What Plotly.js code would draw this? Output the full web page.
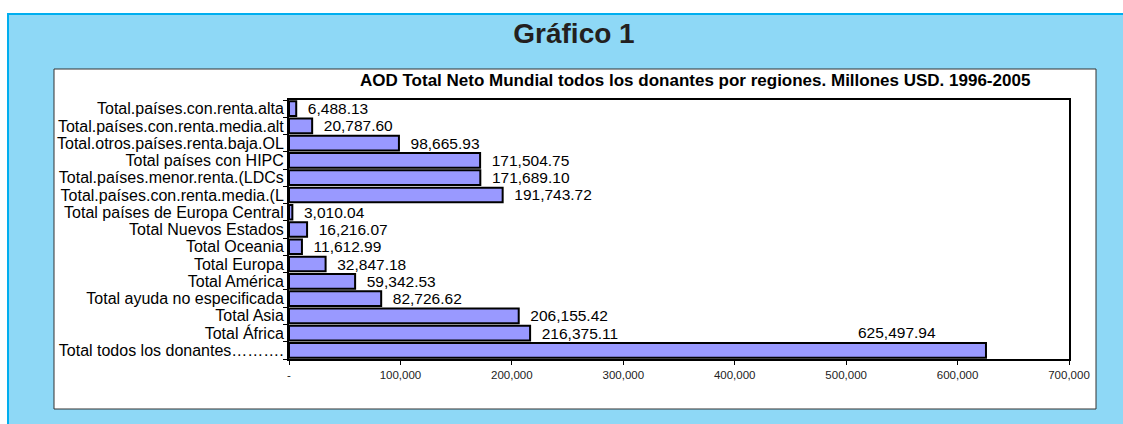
<!DOCTYPE html>
<html>
<head>
<meta charset="utf-8">
<script src="https://cdn.plot.ly/plotly-3.0.1.min.js"></script>
<style>
  html, body { margin: 0; padding: 0; background: #ffffff; }
  #chart { width: 1123px; height: 424px; }
</style>
</head>
<body>
<div id="chart"></div>
<script>
// ---- Data (top to bottom as in the reference) ----
const categories = [
  "Total.países.con.renta.alta",
  "Total.países.con.renta.media.alt",
  "Total.otros.países.renta.baja.OL",
  "Total países con HIPC",
  "Total.países.menor.renta.(LDCs",
  "Total.países.con.renta.media.(L",
  "Total países de Europa Central",
  "Total Nuevos Estados",
  "Total Oceania",
  "Total Europa",
  "Total América",
  "Total ayuda no especificada",
  "Total Asia",
  "Total África",
  "Total todos los donantes………."
];
const values = [
  6488.13, 20787.60, 98665.93, 171504.75, 171689.10, 191743.72,
  3010.04, 16216.07, 11612.99, 32847.18, 59342.53, 82726.62,
  206155.42, 216375.11, 625497.94
];
const xTickVals = [0, 100000, 200000, 300000, 400000, 500000, 600000, 700000];
const xTickText = ["-", "100,000", "200,000", "300,000", "400,000", "500,000", "600,000", "700,000"];

const mainTitle = "Gráfico 1";
const subTitle = "AOD Total Neto Mundial todos los donantes por regiones. Millones USD. 1996-2005";

// ---- Helpers ----
function fmt(v) {
  return v.toLocaleString("en-US", { minimumFractionDigits: 2, maximumFractionDigits: 2 });
}
const lastIdx = values.length - 1;
const barText = values.map((v, i) => i === lastIdx ? "" : "\u00a0\u00a0" + fmt(v));

const FONT = "Arial, 'Liberation Sans', sans-serif";

// Plot area in pixels: x 289..1069, y 100..359
const L = 289, R = 1123 - 1069, T = 100, B = 424 - 359;
const PW = 1123 - L - R, PH = 424 - T - B;
const px = x => (x - L) / PW;
const py = y => (424 - B - y) / PH;

const trace = {
  type: "bar",
  orientation: "h",
  y: categories,
  x: values,
  text: barText,
  textposition: "outside",
  constraintext: "none",
  cliponaxis: false,
  textfont: { family: FONT, size: 15.5, color: "#000000" },
  marker: { color: "#9999ff", line: { color: "#000000", width: 2 } },
  hoverinfo: "skip"
};

const layout = {
  width: 1123,
  height: 424,
  margin: { l: L, r: R, t: T, b: B, pad: 0 },
  paper_bgcolor: "#ffffff",
  plot_bgcolor: "rgba(0,0,0,0)",
  showlegend: false,
  bargap: 0.15,
  font: { family: FONT, color: "#000000" },
  title: {
    text: "<b>" + mainTitle + "</b>",
    font: { family: FONT, size: 28, color: "#231f20" },
    xref: "container", yref: "container",
    x: 574 / 1123, xanchor: "center",
    y: 1 - 33 / 424, yanchor: "middle"
  },
  xaxis: {
    range: [0, 700000],
    tickmode: "array",
    tickvals: xTickVals,
    ticktext: xTickText,
    ticks: "outside",
    ticklen: 4,
    tickcolor: "#000000",
    tickwidth: 1,
    ticklabelstandoff: 0,
    tickfont: { family: FONT, size: 11.5, color: "#222222" },
    showgrid: false,
    zeroline: false,
    showline: true,
    mirror: true,
    linecolor: "#000000",
    linewidth: 2,
    fixedrange: true
  },
  yaxis: {
    type: "category",
    categoryorder: "array",
    categoryarray: categories,
    range: [categories.length - 0.5, -0.5],
    tickmode: "array",
    tickvals: categories,
    ticktext: categories,
    ticks: "outside",
    tickson: "boundaries",
    ticklen: 4,
    tickcolor: "#000000",
    tickwidth: 1,
    tickfont: { family: FONT, size: 16, color: "#000000" },
    showgrid: false,
    zeroline: false,
    showline: true,
    mirror: true,
    linecolor: "#000000",
    linewidth: 2,
    fixedrange: true
  },
  shapes: [
    // light-blue panel with bright blue border
    {
      type: "rect", xref: "paper", yref: "paper", layer: "below",
      x0: px(8), x1: px(1140), y0: py(440), y1: py(14),
      fillcolor: "#8ed8f6", line: { color: "#00aeef", width: 2 }
    },
    // white chart box
    {
      type: "rect", xref: "paper", yref: "paper", layer: "below",
      x0: px(54), x1: px(1096), y0: py(409), y1: py(69),
      fillcolor: "#ffffff", line: { color: "#333333", width: 1 }
    }
  ],
  annotations: [
    {
      xref: "paper", yref: "paper",
      x: px(695), y: py(81), xanchor: "center", yanchor: "middle",
      text: "<b>" + subTitle + "</b>",
      showarrow: false,
      font: { family: FONT, size: 17, color: "#000000" }
    },
    {
      xref: "x", yref: "y",
      x: values[lastIdx], y: categories[lastIdx],
      xanchor: "center", yanchor: "middle",
      xshift: -89, yshift: 18,
      text: fmt(values[lastIdx]),
      showarrow: false,
      font: { family: FONT, size: 15.5, color: "#000000" }
    }
  ]
};

Plotly.newPlot("chart", [trace], layout, { displayModeBar: false, staticPlot: true });
</script>
</body>
</html>
